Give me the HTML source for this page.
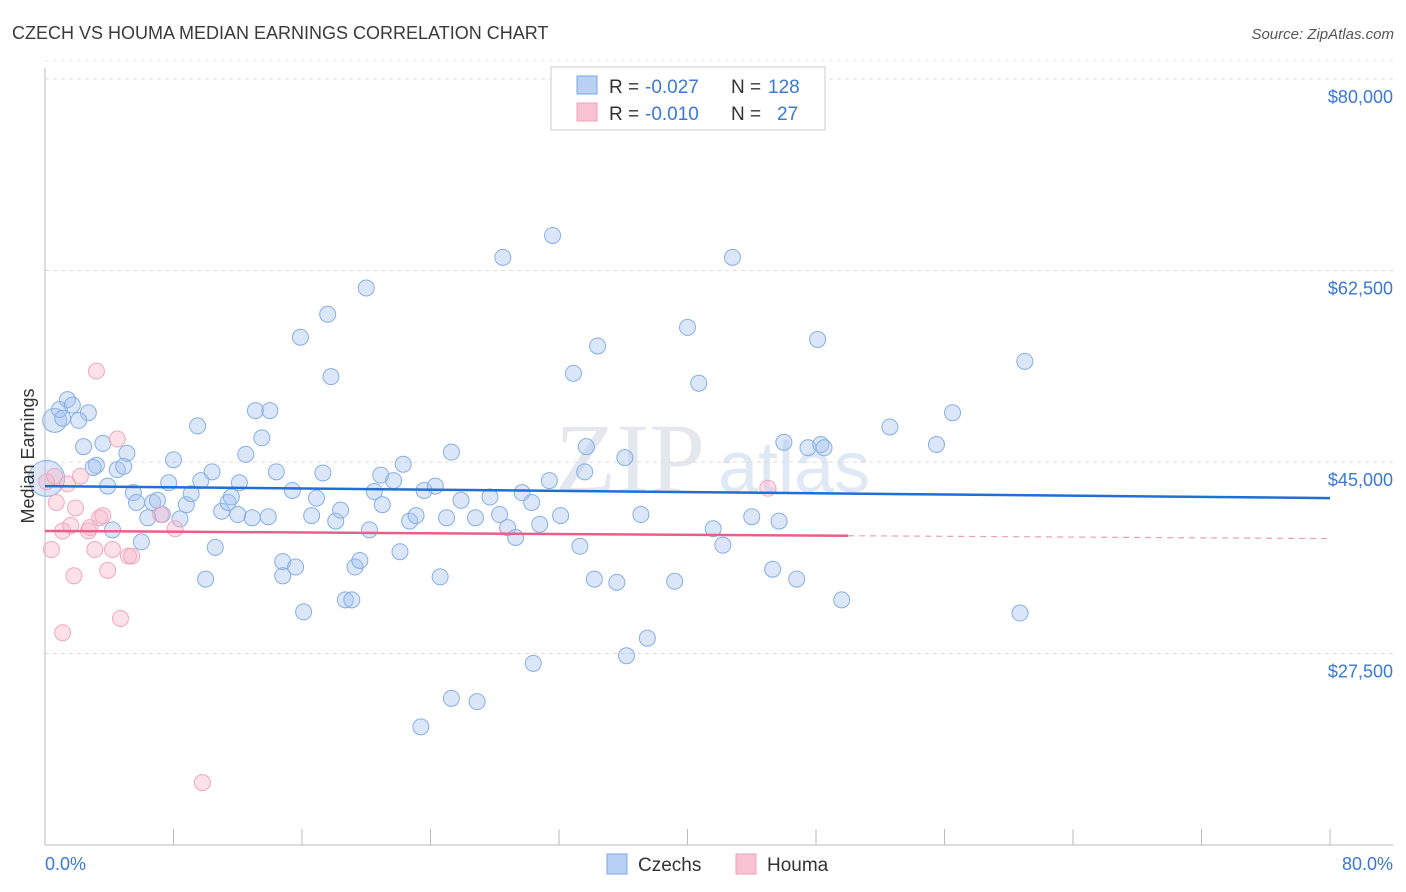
<!DOCTYPE html>
<html><head><meta charset="utf-8"><style>
body{margin:0;background:#fff;font-family:"Liberation Sans",sans-serif;}
svg{display:block}
</style></head><body>
<svg id="chart" width="1406" height="892" viewBox="0 0 1406 892">
<text x="12" y="39" font-size="18" fill="#3a3a3a">CZECH VS HOUMA MEDIAN EARNINGS CORRELATION CHART</text>
<text x="1394" y="39" font-size="15" fill="#555" font-style="italic" text-anchor="end">Source: ZipAtlas.com</text>
<text x="555" y="492" font-size="100" fill="#e4e8ee" font-family="Liberation Serif,serif">ZIP</text>
<text x="718" y="492" font-size="72" fill="#dfe8f5">atlas</text>
<g id="grid"></g>
<g id="axes"></g>
<g id="blue"></g>
<g id="pink"></g>
<g id="lines"></g>
<text transform="translate(34,456) rotate(-90)" font-size="18" fill="#333" text-anchor="middle">Median Earnings</text>
<text x="45" y="870" font-size="18" fill="#3a78d6">0.0%</text>
<text x="1393" y="870" font-size="18" fill="#3a78d6" text-anchor="end">80.0%</text>
<g>
<rect x="551" y="67" width="274" height="63" fill="#fff" stroke="#ccc"/>
<rect x="577" y="76" width="20" height="18" fill="#b8d0f4" stroke="#7aa6e0"/>
<rect x="577" y="103" width="20" height="18" fill="#f8c4d4" stroke="#f0a0b8"/>
<text x="609" y="93" font-size="19" fill="#333">R =</text>
<text x="645" y="93" font-size="19" fill="#3a78d6">-0.027</text>
<text x="731" y="93" font-size="19" fill="#333">N =</text>
<text x="768" y="93" font-size="19" fill="#3a78d6">128</text>
<text x="609" y="120" font-size="19" fill="#333">R =</text>
<text x="645" y="120" font-size="19" fill="#3a78d6">-0.010</text>
<text x="731" y="120" font-size="19" fill="#333">N =</text>
<text x="777" y="120" font-size="19" fill="#3a78d6">27</text>
</g>
<g>
<rect x="607" y="854" width="20" height="20" fill="#b8d0f4" stroke="#7aa6e0"/>
<text x="638" y="871" font-size="19" fill="#333">Czechs</text>
<rect x="736" y="854" width="20" height="20" fill="#f8c4d4" stroke="#f0a0b8"/>
<text x="767" y="871" font-size="19" fill="#333">Houma</text>
</g>
</svg>
<script>
const yTicks=[27500,45000,62500,80000];
const yTickLabels=["$27,500","$45,000","$62,500","$80,000"];
const xTicks=[0,8,16,24,32,40,48,56,64,72,80];
const czechX=[0.1,0.6,0.9,1.4,1.7,2.7,2.1,1.1,2.4,3.6,5.1,3.2,3.0,4.5,4.9,3.9,5.5,5.7,6.7,7.0,7.3,6.4,6.0,4.2,8.0,7.7,8.4,8.8,9.1,9.5,9.7,10.4,10.0,10.6,11.0,11.4,11.6,12.1,12.0,12.5,12.9,13.1,13.5,14.0,13.9,14.4,14.8,14.8,15.4,15.6,16.1,15.9,16.6,16.9,17.3,17.6,17.8,18.1,18.4,18.7,19.1,19.3,19.6,20.0,20.2,20.5,20.9,21.0,21.7,22.1,22.3,22.7,23.1,23.6,24.3,24.6,25.0,25.3,25.9,26.8,27.7,28.5,28.3,28.8,29.3,29.7,30.3,30.8,31.4,31.6,32.1,32.9,33.3,33.6,33.7,34.2,34.4,35.6,36.1,36.2,37.1,37.5,39.2,40.0,40.7,41.6,42.2,42.8,44.0,45.3,45.7,46.0,46.8,47.5,48.1,48.3,48.5,49.6,52.6,55.5,56.5,61.0,60.7,25.3,26.9,23.4,30.4];
const czechY=[43500,48800,49800,50700,50200,49500,48800,49000,46400,46700,45800,44700,44500,44300,44600,42800,42200,41300,41300,41500,40200,39900,37700,38800,45200,43100,39800,41100,42100,48300,43300,44100,34300,37200,40500,41300,41800,43100,40200,45700,39900,49700,47200,49700,40000,44100,35900,34600,42400,35400,31300,56400,40100,41700,44000,58500,52800,39600,40600,32400,32400,35400,36000,60900,38800,42300,43800,41100,43300,36800,44800,39600,40100,42400,42800,34500,39900,45900,41500,39900,41800,63700,40200,39000,38100,42200,41300,39300,43300,65700,40100,53100,37300,44100,46400,34300,55600,34000,45400,27300,40200,28900,34100,57300,52200,38900,37400,63700,40000,35200,39600,46800,34300,46300,56200,46600,46300,32400,48200,46600,49500,54200,31200,23400,23100,20800,26600];
const czechR=[18,12];
const houmaX=[0.1,0.6,0.7,0.4,1.1,1.4,1.6,1.8,1.9,2.2,2.7,2.8,3.1,3.2,3.4,3.6,3.9,4.2,4.5,4.7,5.2,5.4,7.2,8.1,1.1,9.8,45.0];
const houmaY=[43200,43700,41300,37000,38700,43000,39200,34600,40800,43700,38700,39000,37000,53300,39900,40100,35100,37000,47100,30700,36400,36400,40200,38900,29400,15700,42600];
const czechTrend=[42800,41700];
const houmaTrend=[38700,38000];
const houmaSolidEnd=50;

const NS="http://www.w3.org/2000/svg";
const X0=45,X1=1330,Y0=845;
function xs(v){return X0+(v/80)*(X1-X0);}
function ys(v){return 462-(v-45000)/17500*191.5;}
function mk(tag,attrs,parent){const e=document.createElementNS(NS,tag);for(const k in attrs)e.setAttribute(k,attrs[k]);parent.appendChild(e);return e;}
const grid=document.getElementById('grid'),axes=document.getElementById('axes');
yTicks.forEach((t,i)=>{
 const g=mk('line',{x1:X0,x2:1393,y1:ys(t),y2:ys(t),stroke:'#dcdcdc','stroke-dasharray':'4,4'},grid);
 
 
 const l=mk('text',{x:1393,y:ys(t)+24,'font-size':18,fill:'#3a78d6','text-anchor':'end'},axes);
 l.textContent=yTickLabels[i];
 
 
});
const tg=mk('line',{x1:X0,x2:1393,y1:ys(80000)-18,y2:ys(80000)-18,stroke:'#e6e6e6','stroke-dasharray':'4,4'},grid);


const ya=mk('line',{x1:X0,x2:X0,y1:68,y2:Y0,stroke:'#bbb'},axes);


const xa=mk('line',{x1:X0,x2:1393,y1:Y0,y2:Y0,stroke:'#bbb'},axes);


xTicks.forEach(t=>{
 const k=mk('line',{x1:xs(t),x2:xs(t),y1:829,y2:Y0,stroke:'#bbb'},axes);
 
 
});
const bg=document.getElementById('blue');
czechX.forEach((x,i)=>{
 const c=mk('circle',{cx:xs(x),cy:ys(czechY[i]),r:czechR[i]||8,fill:'rgba(164,196,240,0.4)',stroke:'#86afe4','stroke-width':1},bg);
 
 
});
const pg=document.getElementById('pink');
houmaX.forEach((x,i)=>{
 const c=mk('circle',{cx:xs(x),cy:ys(houmaY[i]),r:8,fill:'rgba(248,180,200,0.4)',stroke:'#f0a8bf','stroke-width':1},pg);
 
 
});
const lg=document.getElementById('lines');
const bl=mk('line',{x1:xs(0),x2:xs(80),y1:ys(czechTrend[0]),y2:ys(czechTrend[1]),stroke:'#1f6fd6','stroke-width':2.5},lg);


const hAt=v=>houmaTrend[0]+(houmaTrend[1]-houmaTrend[0])*v/80;
const pl=mk('line',{x1:xs(0),x2:xs(houmaSolidEnd),y1:ys(hAt(0)),y2:ys(hAt(houmaSolidEnd)),stroke:'#e8608a','stroke-width':2.5},lg);


const pd=mk('line',{x1:xs(houmaSolidEnd),x2:xs(80),y1:ys(hAt(houmaSolidEnd)),y2:ys(hAt(80)),stroke:'#e8a0b8','stroke-width':1.2,'stroke-dasharray':'6,5'},lg);


</script>
</body></html>
